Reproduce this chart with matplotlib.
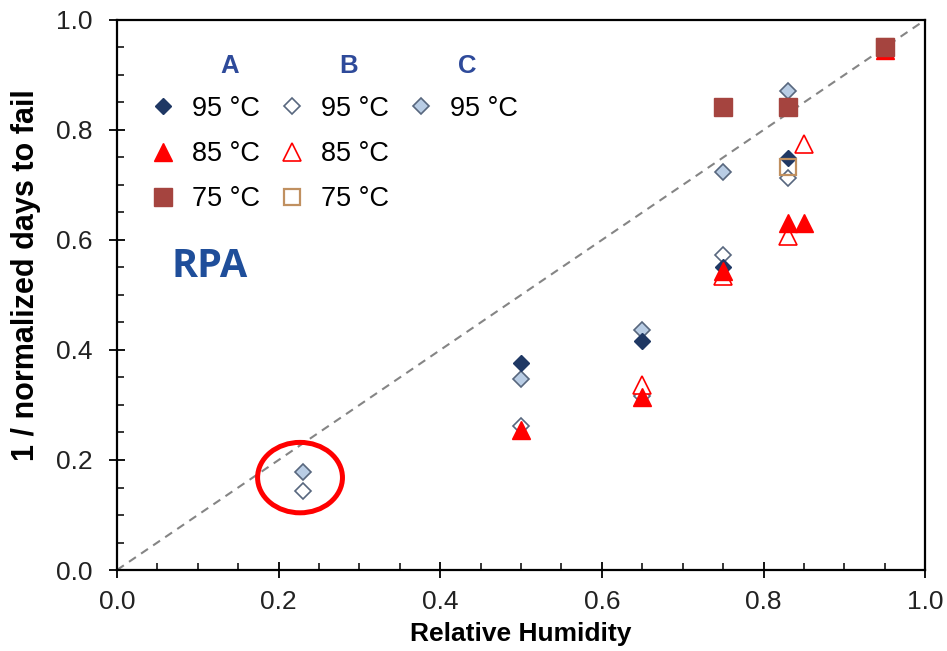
import numpy as np
import matplotlib
matplotlib.use("Agg")
import matplotlib.pyplot as plt
from matplotlib.lines import Line2D
from matplotlib.patches import Ellipse
from matplotlib.ticker import MultipleLocator, FormatStrFormatter

plt.rcParams["font.family"] = ["Liberation Sans", "DejaVu Sans"]

# relative humidity / (1 / normalized days to fail), per material and temperature
a95_rh = [0.50, 0.65, 0.75, 0.83]
a95_v = [0.376, 0.417, 0.551, 0.749]
a85_rh = [0.50, 0.65, 0.75, 0.83, 0.85, 0.95]
a85_v = [0.255, 0.315, 0.543, 0.631, 0.631, 0.945]
a75_rh = [0.75, 0.83, 0.95]
a75_v = [0.841, 0.841, 0.951]

b95_rh = [0.23, 0.50, 0.65, 0.75, 0.83]
b95_v = [0.144, 0.262, 0.316, 0.573, 0.713]
b85_rh = [0.65, 0.75, 0.83, 0.85]
b85_v = [0.336, 0.535, 0.607, 0.775]
b75_rh = [0.83, 0.95]
b75_v = [0.733, 0.950]

c95_rh = [0.23, 0.50, 0.65, 0.75, 0.83]
c95_v = [0.179, 0.347, 0.436, 0.724, 0.871]

groups = ["A", "B", "C"]
temp_labels = ["95 °C", "85 °C", "75 °C"]

NAVY = "#1f3864"
RED = "#ff0000"
BROWN = "#a5443f"
TAN = "#c09060"
LIGHT = "#b9cde5"
EDGE = "#58677e"
TITLE_BLUE = "#2e4a9a"

fig = plt.figure(figsize=(9.47, 6.51), dpi=100)
ax = fig.add_axes([0.1235, 0.1244, 0.8535, 0.8450])

ax.plot([0, 1], [0, 1], color="#858585", lw=1.5, dashes=(4, 3), zorder=1)

styles = {
    "c95": dict(marker="D", ms=8.6, mfc=LIGHT, mec=EDGE, mew=1.2),
    "b95": dict(marker="D", ms=8.6, mfc="white", mec=EDGE, mew=1.2),
    "b85": dict(marker="^", ms=13, mfc="white", mec=RED, mew=1.2),
    "b75": dict(marker="s", ms=12, mfc="none", mec=TAN, mew=1.6),
    "a95": dict(marker="D", ms=8.6, mfc=NAVY, mec=NAVY, mew=1.0),
    "a85": dict(marker="^", ms=13, mfc=RED, mec=RED, mew=1.0),
    "a75": dict(marker="s", ms=12.5, mfc=BROWN, mec=BROWN, mew=1.0),
}

ax.plot(c95_rh, c95_v, ls="none", zorder=3, **styles["c95"])
ax.plot(b95_rh, b95_v, ls="none", zorder=3, **styles["b95"])
ax.plot(b85_rh, b85_v, ls="none", zorder=3, **styles["b85"])
ax.plot(a95_rh, a95_v, ls="none", zorder=3, **styles["a95"])
ax.plot(b75_rh, b75_v, ls="none", zorder=4, **styles["b75"])
ax.plot(a85_rh, a85_v, ls="none", zorder=4, **styles["a85"])
ax.plot(a75_rh, a75_v, ls="none", zorder=5, **styles["a75"])

# circle round the low-humidity points
ax.add_patch(Ellipse((0.2265, 0.168), 0.105, 0.128, fill=False,
                     ec=RED, lw=3.6, zorder=6, clip_on=False))

ax.set_xlim(0, 1)
ax.set_ylim(0, 1)
ax.xaxis.set_major_locator(MultipleLocator(0.2))
ax.yaxis.set_major_locator(MultipleLocator(0.2))
ax.xaxis.set_minor_locator(MultipleLocator(0.05))
ax.yaxis.set_minor_locator(MultipleLocator(0.05))
ax.xaxis.set_major_formatter(FormatStrFormatter("%.1f"))
ax.yaxis.set_major_formatter(FormatStrFormatter("%.1f"))

ax.tick_params(which="major", direction="inout", length=11, width=1.3,
               labelsize=19, labelcolor="#222222")
ax.tick_params(axis="x", which="major", pad=9)
ax.tick_params(axis="y", which="major", pad=12)
ax.tick_params(which="minor", direction="in", length=5, width=1.1)
for sp in ax.spines.values():
    sp.set_linewidth(1.6)

ax.set_xlabel("Relative Humidity", fontsize=19, fontweight="bold",
              labelpad=6)
ax.set_ylabel("1 / normalized days to fail", fontsize=22,
              fontweight="bold")
ax.yaxis.set_label_coords(-0.094, 0.536)

# legend: one column per material
handles, labels = [], []
for key, lab in zip(["a95", "a85", "a75", "b95", "b85", "b75", "c95"],
                    temp_labels * 2 + temp_labels[:1]):
    st = dict(styles[key])
    if key == "b75":
        st["ms"] = 11
    handles.append(Line2D([], [], ls="none", **st))
    labels.append(lab)
for _ in range(2):
    handles.append(Line2D([], [], ls="none"))
    labels.append("")

ax.legend(handles, labels, ncol=3, loc="upper left",
          bbox_to_anchor=(0.040, 0.862), borderaxespad=0, borderpad=0,
          frameon=False, handlelength=1.0, handletextpad=0.57,
          columnspacing=0.68, labelspacing=0.71,
          prop={"family": "Liberation Sans", "size": 19.5})

for g, gx in zip(groups, [0.140, 0.286, 0.433]):
    ax.text(gx, 0.916, g, ha="center", va="center", fontsize=18.5,
            fontweight="bold", color=TITLE_BLUE, family="Liberation Sans")

ax.text(0.068, 0.552, "RPA", ha="left", va="center", fontsize=28.5,
        fontweight="bold", color="#1f4e9a", family="Open Sans")

fig.savefig("out.png", dpi=100)
